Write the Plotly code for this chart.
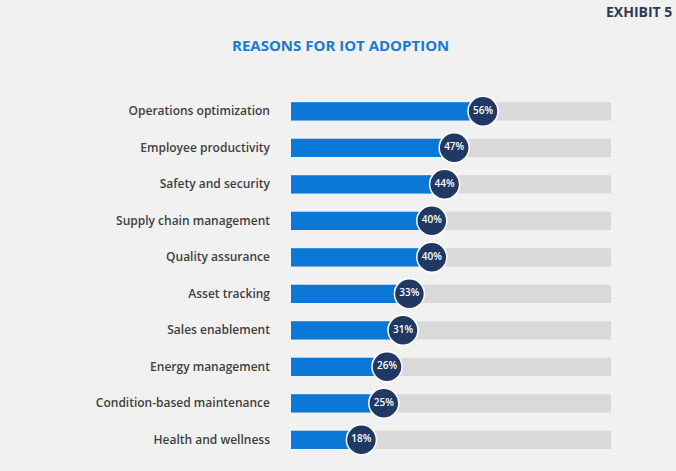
import plotly.graph_objects as go

categories = ["Operations optimization", "Employee productivity", "Safety and security",
              "Supply chain management", "Quality assurance", "Asset tracking",
              "Sales enablement", "Energy management", "Condition-based maintenance",
              "Health and wellness"]
values = [56, 47, 44, 40, 40, 33, 31, 26, 25, 18]
full_scale = [100] * len(values)
labels = [f"{v}%" for v in values]

BG = "#f1f1f1"
BLUE = "#0b78d8"
GRAY = "#d9d9d9"
NAVY = "#1f3864"
circle_offset = 4  # badge sits just past the bar end

fig = go.Figure()
fig.add_trace(go.Bar(y=categories, x=full_scale, orientation="h", marker=dict(color=GRAY, line=dict(width=0)),
                     width=0.5, hoverinfo="skip", showlegend=False))
fig.add_trace(go.Bar(y=categories, x=values, orientation="h", marker=dict(color=BLUE, line=dict(width=0)),
                     width=0.5, showlegend=False))
fig.add_trace(go.Scatter(y=categories, x=[v + circle_offset for v in values], mode="markers+text",
                         marker=dict(size=30, color=NAVY, line=dict(color="white", width=1.5)),
                         text=labels, textposition="middle center",
                         textfont=dict(color="white", size=10, family="Open Sans", weight=600),
                         showlegend=False, cliponaxis=False))

n = len(categories)
fig.update_layout(
    width=676, height=471,
    paper_bgcolor=BG, plot_bgcolor=BG,
    barmode="overlay",
    margin=dict(l=291, r=65, t=93, b=13),
    xaxis=dict(range=[0, 100], visible=False, fixedrange=True),
    yaxis=dict(range=[n - 0.5, -0.5], showgrid=False, zeroline=False, showline=False,
               ticks="", ticklabelstandoff=20, automargin=False,
               tickfont=dict(family="Open Sans", size=12, color="#3f3f3f", weight=600)),
    font=dict(family="Open Sans"),
)
plot_w = 676 - 291 - 65
plot_h = 471 - 93 - 13
fig.add_annotation(text="REASONS FOR IOT ADOPTION", xref="paper", yref="paper", showarrow=False,
                   x=(340 - 291) / plot_w, y=(471 - 13 - 45) / plot_h, xanchor="center", yanchor="middle",
                   font=dict(size=15, color="#1a7bd0", family="Open Sans", weight=700))
fig.add_annotation(text="EXHIBIT 5", xref="paper", yref="paper", showarrow=False,
                   x=(674 - 291) / plot_w, y=(471 - 13 - 11) / plot_h, xanchor="right", yanchor="middle",
                   font=dict(size=14, color="#2e3a52", family="Open Sans", weight=700))

fig.write_html("out.html", config={"displayModeBar": False},
               post_script="document.body.style.margin='0';")
